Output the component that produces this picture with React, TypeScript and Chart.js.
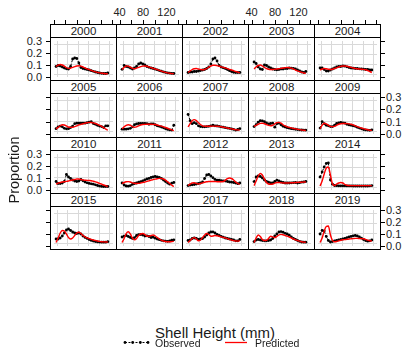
import React, { useEffect, useRef } from "react";
import { Chart, registerables } from "chart.js";
Chart.register(...registerables);

// ---------- data ----------
const years = [2000, 2001, 2002, 2003, 2004, 2005, 2006, 2007, 2008, 2009, 2010, 2011, 2012, 2013, 2014, 2015, 2016, 2017, 2018, 2019];
const shellHeights = [38, 42, 46, 50, 54, 58, 62, 66, 70, 74, 78, 82, 86, 90, 94, 98, 102, 106, 110, 114, 118, 122, 126, 130, 134, 138];
const xTickLabels = [40, 80, 120];
const xTicks = [40, 60, 80, 100, 120, 140];
const yTicks = [0, 0.1, 0.2, 0.3];

const obs2000 = [0.075,0.085,0.08,0.07,0.06,0.052,0.05,0.075,0.15,0.16,0.155,0.11,0.065,0.055,0.05,0.045,0.04,0.033,0.027,0.02,0.015,0.01,0.007,0.005,0.005,0.01];
const pred2000 = [0.075,0.088,0.095,0.09,0.078,0.064,0.056,0.058,0.066,0.074,0.08,0.082,0.078,0.07,0.06,0.052,0.044,0.036,0.029,0.022,0.016,0.011,0.008,0.005,0.003,0.002];
const obs2001 = [0.047,0.085,0.075,0.07,0.06,0.05,0.06,0.075,0.1,0.11,0.1,0.09,0.075,0.067,0.06,0.055,0.048,0.042,0.034,0.028,0.021,0.016,0.011,0.008,0.006,0.005];
const pred2001 = [0.045,0.065,0.08,0.078,0.068,0.057,0.053,0.058,0.066,0.074,0.079,0.08,0.077,0.071,0.064,0.057,0.05,0.043,0.036,0.029,0.022,0.016,0.011,0.007,0.004,0.003];
const obs2002 = [0.015,0.02,0.02,0.025,0.025,0.03,0.035,0.04,0.045,0.055,0.07,0.1,0.15,0.16,0.13,0.085,0.07,0.062,0.055,0.045,0.033,0.025,0.017,0.015,0.015,0.015];
const pred2002 = [0.015,0.03,0.045,0.053,0.055,0.05,0.045,0.042,0.045,0.055,0.068,0.08,0.088,0.088,0.084,0.078,0.072,0.066,0.06,0.054,0.047,0.04,0.033,0.025,0.018,0.012];
const obs2003 = [0.12,0.105,0.07,0.05,0.045,0.09,0.085,0.07,0.06,0.05,0.045,0.042,0.045,0.05,0.05,0.055,0.055,0.06,0.058,0.055,0.05,0.04,0.03,0.02,0.015,0.025];
const pred2003 = [0.05,0.07,0.085,0.09,0.08,0.065,0.055,0.048,0.045,0.045,0.047,0.05,0.053,0.056,0.06,0.063,0.065,0.063,0.058,0.05,0.04,0.032,0.024,0.016,0.01,0.006];
const obs2004 = [0.06,0.06,0.045,0.03,0.03,0.04,0.05,0.06,0.07,0.075,0.075,0.08,0.078,0.072,0.065,0.06,0.058,0.055,0.055,0.052,0.05,0.048,0.045,0.045,0.04,0.04];
const pred2004 = [0.04,0.05,0.055,0.052,0.048,0.045,0.048,0.055,0.062,0.07,0.076,0.08,0.08,0.077,0.072,0.066,0.06,0.055,0.052,0.05,0.048,0.046,0.042,0.035,0.025,0.015];
const obs2005 = [0.022,0.04,0.047,0.04,0.025,0.02,0.022,0.033,0.047,0.07,0.075,0.075,0.075,0.075,0.075,0.08,0.085,0.09,0.072,0.065,0.055,0.047,0.042,0.033,0.05,0.05];
const pred2005 = [0.02,0.035,0.05,0.06,0.058,0.048,0.038,0.034,0.036,0.042,0.05,0.058,0.064,0.07,0.075,0.08,0.083,0.082,0.078,0.072,0.064,0.055,0.045,0.032,0.018,0.008];
const obs2006 = [0.017,0.017,0.017,0.02,0.025,0.04,0.06,0.068,0.072,0.072,0.072,0.072,0.07,0.065,0.068,0.068,0.06,0.05,0.045,0.038,0.03,0.022,0.015,0.01,0.008,0.055];
const pred2006 = [0.02,0.04,0.055,0.06,0.055,0.042,0.036,0.04,0.05,0.058,0.062,0.064,0.065,0.065,0.065,0.064,0.062,0.058,0.052,0.046,0.04,0.033,0.026,0.018,0.01,0.003];
const obs2007 = [0.16,0.1,0.07,0.08,0.07,0.05,0.042,0.04,0.04,0.042,0.045,0.05,0.055,0.05,0.048,0.045,0.04,0.036,0.032,0.028,0.024,0.02,0.015,0.008,0.014,0.022];
const pred2007 = [0.04,0.07,0.1,0.11,0.1,0.08,0.062,0.05,0.046,0.045,0.045,0.046,0.047,0.047,0.046,0.044,0.04,0.036,0.032,0.028,0.024,0.02,0.016,0.012,0.01,0.008];
const obs2008 = [0.042,0.06,0.085,0.1,0.097,0.09,0.078,0.068,0.072,0.075,0.036,0.07,0.075,0.06,0.045,0.038,0.032,0.027,0.022,0.019,0.016,0.013,0.011,0.009,0.008,0.008];
const pred2008 = [0.045,0.055,0.065,0.073,0.075,0.07,0.062,0.054,0.05,0.055,0.068,0.08,0.083,0.075,0.06,0.048,0.04,0.034,0.029,0.024,0.02,0.016,0.012,0.009,0.006,0.004];
const obs2009 = [0.028,0.09,0.07,0.055,0.05,0.042,0.042,0.055,0.072,0.078,0.083,0.078,0.075,0.065,0.058,0.055,0.05,0.045,0.035,0.028,0.02,0.013,0.01,0.008,0.006,0.011];
const pred2009 = [0.022,0.055,0.075,0.068,0.055,0.045,0.042,0.045,0.055,0.065,0.07,0.072,0.072,0.071,0.069,0.065,0.058,0.05,0.042,0.035,0.028,0.022,0.016,0.011,0.007,0.004];
const obs2010 = [0.055,0.035,0.035,0.04,0.055,0.125,0.1,0.085,0.07,0.06,0.055,0.06,0.075,0.062,0.05,0.042,0.036,0.032,0.028,0.022,0.015,0.009,0.006,0.005,0.005,0.005];
const pred2010 = [0.03,0.038,0.045,0.05,0.053,0.056,0.06,0.065,0.07,0.075,0.08,0.08,0.075,0.07,0.068,0.066,0.065,0.063,0.058,0.052,0.045,0.037,0.028,0.02,0.012,0.005];
const obs2011 = [0.04,0.02,0.01,0.008,0.014,0.027,0.035,0.04,0.048,0.054,0.062,0.072,0.08,0.086,0.095,0.1,0.105,0.1,0.095,0.086,0.07,0.055,0.04,0.028,0.038,0.045];
const pred2011 = [0.035,0.045,0.052,0.054,0.05,0.042,0.037,0.035,0.036,0.04,0.045,0.05,0.056,0.062,0.068,0.074,0.079,0.083,0.086,0.086,0.08,0.068,0.052,0.035,0.018,0.005];
const obs2012 = [0.014,0.02,0.022,0.025,0.03,0.035,0.04,0.05,0.085,0.12,0.125,0.11,0.093,0.076,0.068,0.068,0.063,0.062,0.06,0.055,0.05,0.048,0.045,0.04,0.033,0.04];
const pred2012 = [0.015,0.028,0.04,0.042,0.035,0.03,0.035,0.042,0.048,0.052,0.055,0.055,0.055,0.054,0.053,0.052,0.052,0.055,0.068,0.083,0.09,0.085,0.07,0.05,0.035,0.027];
const obs2013 = [0.054,0.1,0.11,0.105,0.09,0.07,0.055,0.048,0.04,0.04,0.055,0.068,0.06,0.05,0.045,0.04,0.04,0.04,0.042,0.043,0.045,0.04,0.043,0.048,0.05,0.055];
const pred2013 = [0.014,0.06,0.11,0.135,0.12,0.08,0.045,0.03,0.027,0.03,0.038,0.045,0.045,0.042,0.04,0.04,0.04,0.041,0.042,0.043,0.045,0.046,0.047,0.048,0.05,0.05];
const obs2014 = [0.1,0.15,0.2,0.235,0.24,0.07,0.028,0.015,0.013,0.012,0.012,0.012,0.012,0.011,0.011,0.011,0.01,0.01,0.01,0.01,0.01,0.01,0.01,0.01,0.012,0.014];
const pred2014 = [0.01,0.06,0.13,0.19,0.2,0.12,0.03,0.015,0.03,0.04,0.045,0.04,0.025,0.018,0.015,0.014,0.014,0.014,0.014,0.014,0.014,0.014,0.014,0.014,0.014,0.014];
const obs2015 = [0.04,0.04,0.05,0.07,0.1,0.13,0.14,0.125,0.11,0.1,0.095,0.1,0.09,0.07,0.056,0.046,0.035,0.026,0.02,0.015,0.011,0.009,0.008,0.008,0.008,0.013];
const pred2015 = [0.005,0.05,0.1,0.125,0.12,0.09,0.055,0.04,0.05,0.075,0.1,0.107,0.095,0.075,0.062,0.052,0.044,0.036,0.03,0.025,0.02,0.016,0.013,0.011,0.01,0.01];
const obs2016 = [0.06,0.068,0.075,0.065,0.055,0.046,0.054,0.075,0.083,0.085,0.08,0.07,0.072,0.065,0.055,0.058,0.048,0.04,0.033,0.027,0.022,0.019,0.017,0.02,0.028,0.032];
const pred2016 = [0.005,0.045,0.095,0.113,0.09,0.05,0.032,0.045,0.075,0.09,0.095,0.085,0.07,0.068,0.075,0.08,0.07,0.055,0.04,0.028,0.02,0.015,0.012,0.012,0.014,0.016];
const obs2017 = [0.025,0.03,0.045,0.05,0.045,0.035,0.04,0.045,0.06,0.08,0.1,0.11,0.112,0.1,0.085,0.075,0.067,0.058,0.05,0.045,0.04,0.035,0.03,0.022,0.022,0.035];
const pred2017 = [0.005,0.025,0.045,0.054,0.04,0.022,0.03,0.055,0.08,0.095,0.085,0.068,0.07,0.075,0.072,0.068,0.062,0.056,0.05,0.044,0.036,0.03,0.024,0.02,0.019,0.022];
const obs2018 = [0.014,0.03,0.035,0.03,0.024,0.022,0.022,0.025,0.03,0.045,0.07,0.09,0.11,0.114,0.108,0.097,0.09,0.078,0.062,0.045,0.035,0.025,0.016,0.01,0.008,0.008];
const pred2018 = [0.005,0.05,0.08,0.065,0.035,0.025,0.027,0.045,0.068,0.062,0.054,0.065,0.08,0.086,0.083,0.075,0.068,0.06,0.05,0.04,0.032,0.025,0.019,0.013,0.009,0.006];
const obs2019 = [0.09,0.125,0.12,0.065,0.025,0.01,0.014,0.022,0.027,0.032,0.035,0.04,0.046,0.054,0.06,0.066,0.072,0.075,0.07,0.06,0.048,0.035,0.025,0.018,0.022,0.03];
const pred2019 = [0.005,0.05,0.12,0.165,0.17,0.08,0.025,0.012,0.015,0.022,0.028,0.032,0.034,0.036,0.04,0.042,0.044,0.046,0.046,0.045,0.044,0.042,0.036,0.028,0.022,0.02];

const observed = [obs2000, obs2001, obs2002, obs2003, obs2004, obs2005, obs2006, obs2007, obs2008, obs2009, obs2010, obs2011, obs2012, obs2013, obs2014, obs2015, obs2016, obs2017, obs2018, obs2019];
const predicted = [pred2000, pred2001, pred2002, pred2003, pred2004, pred2005, pred2006, pred2007, pred2008, pred2009, pred2010, pred2011, pred2012, pred2013, pred2014, pred2015, pred2016, pred2017, pred2018, pred2019];

// ---------- layout ----------
const FONT = "'Liberation Sans', Arial, Helvetica, sans-serif";
const X_MIN = 34, X_MAX = 148;
const Y_MIN = -0.03, Y_MAX = 0.33;
const COL_LEFT = 50, COL_PITCH = 66, PANEL_W = 67;
const ROW_TOPS = [24, 80, 137, 193];
const BOTTOM = 249;
const STRIP_H = 13;
const RIGHT_EDGE = COL_LEFT + COL_PITCH * 5;

function panelRect(i: number) {
  const r = Math.floor(i / 5), c = i % 5;
  const top = ROW_TOPS[r] + STRIP_H;
  const bottom = r < 3 ? ROW_TOPS[r + 1] : BOTTOM;
  return { r, c, left: COL_LEFT + COL_PITCH * c, top, width: PANEL_W, height: bottom - top + 1 };
}
function xPix(c: number, v: number) {
  return COL_LEFT + COL_PITCH * c + ((v - X_MIN) / (X_MAX - X_MIN)) * PANEL_W;
}
function yPix(r: number, v: number) {
  const p = panelRect(r * 5);
  return p.top + ((Y_MAX - v) / (Y_MAX - Y_MIN)) * p.height;
}

const panelDecor = {
  id: "panelDecor",
  beforeDatasetsDraw(chart: any) {
    const { ctx, chartArea, scales } = chart;
    ctx.save();
    ctx.strokeStyle = "#d9d9d9";
    ctx.lineWidth = 1;
    for (const v of xTicks) {
      const x = Math.round(scales.x.getPixelForValue(v)) + 0.5;
      ctx.beginPath(); ctx.moveTo(x, chartArea.top); ctx.lineTo(x, chartArea.bottom); ctx.stroke();
    }
    for (const v of yTicks) {
      const y = Math.round(scales.y.getPixelForValue(v)) + 0.5;
      ctx.beginPath(); ctx.moveTo(chartArea.left, y); ctx.lineTo(chartArea.right, y); ctx.stroke();
    }
    ctx.restore();
  },
  afterDraw(chart: any) {
    const { ctx, width, height } = chart;
    ctx.save();
    ctx.strokeStyle = "#000";
    ctx.lineWidth = 1;
    ctx.strokeRect(0.5, 0.5, width - 1, height - 1);
    ctx.restore();
  },
};

function Panel({ index }: { index: number }) {
  const ref = useRef<HTMLCanvasElement | null>(null);
  const rect = panelRect(index);
  useEffect(() => {
    if (!ref.current) return;
    const chart = new Chart(ref.current, {
      type: "line",
      data: {
        datasets: [
          {
            label: "Predicted",
            data: shellHeights.map((x, k) => ({ x, y: predicted[index][k] })),
            borderColor: "#ff0000",
            borderWidth: 1.4,
            pointRadius: 0,
            cubicInterpolationMode: "monotone",
            fill: false,
          },
          {
            label: "Observed",
            data: shellHeights.map((x, k) => ({ x, y: observed[index][k] })),
            borderColor: "#000000",
            borderWidth: 1,
            borderDash: [2, 1.5],
            pointRadius: 1.4,
            pointBackgroundColor: "#000000",
            pointBorderWidth: 0,
            fill: false,
          },
        ],
      },
      options: {
        responsive: false,
        animation: false,
        events: [],
        layout: { padding: 0 },
        plugins: { legend: { display: false }, tooltip: { enabled: false } },
        scales: {
          x: { type: "linear", min: X_MIN, max: X_MAX, display: false },
          y: { type: "linear", min: Y_MIN, max: Y_MAX, display: false },
        },
      } as any,
      plugins: [panelDecor],
    });
    return () => chart.destroy();
  }, [index]);
  return (
    <canvas
      ref={ref}
      width={rect.width}
      height={rect.height}
      style={{ position: "absolute", left: rect.left, top: rect.top, width: rect.width, height: rect.height }}
    />
  );
}

const abs = (s: React.CSSProperties): React.CSSProperties => ({ position: "absolute", ...s });

export default function App() {
  const items: React.ReactNode[] = [];
  // strips
  years.forEach((yr, i) => {
    const r = Math.floor(i / 5), c = i % 5;
    items.push(
      <div key={"s" + i} style={abs({ left: COL_LEFT + COL_PITCH * c, top: ROW_TOPS[r], width: PANEL_W, height: STRIP_H + 1, boxSizing: "border-box", border: "1px solid #000", background: "#fff", font: `11.5px ${FONT}`, lineHeight: `${STRIP_H - 1}px`, textAlign: "center", color: "#1a1a1a" })}>{yr}</div>
    );
  });
  // top ticks
  for (let c = 0; c < 5; c++) {
    for (const v of xTicks) {
      items.push(<div key={`tt${c}-${v}`} style={abs({ left: Math.round(xPix(c, v)), top: ROW_TOPS[0] - 4, width: 1, height: 4, background: "#000" })} />);
    }
    if (c === 1 || c === 3) {
      for (const v of xTickLabels) {
        items.push(<div key={`tl${c}-${v}`} style={abs({ left: xPix(c, v) - 15, top: 6, width: 30, textAlign: "center", font: `11px ${FONT}`, lineHeight: "13px", color: "#222" })}>{v}</div>);
      }
    }
  }
  // y ticks
  for (let r = 0; r < 4; r++) {
    for (const v of yTicks) {
      const y = Math.round(yPix(r, v));
      items.push(<div key={`yl${r}-${v}`} style={abs({ left: COL_LEFT - 4, top: y, width: 4, height: 1, background: "#000" })} />);
      items.push(<div key={`yr${r}-${v}`} style={abs({ left: RIGHT_EDGE + 1, top: y, width: 4, height: 1, background: "#000" })} />);
      if (r % 2 === 0) {
        items.push(<div key={`ylt${r}-${v}`} style={abs({ left: 8, top: y - 6, width: 34, textAlign: "right", font: `11px ${FONT}`, lineHeight: "13px", color: "#222" })}>{v.toFixed(1)}</div>);
      } else {
        items.push(<div key={`yrt${r}-${v}`} style={abs({ left: RIGHT_EDGE + 6, top: y - 6, width: 30, textAlign: "left", font: `11px ${FONT}`, lineHeight: "13px", color: "#222" })}>{v.toFixed(1)}</div>);
      }
    }
  }
  return (
    <div style={abs({ left: 0, top: 0, width: 404, height: 349, background: "#fff", overflow: "hidden" })}>
      {items}
      {years.map((_, i) => <Panel key={i} index={i} />)}
      <div style={abs({ left: 14, top: 170, transform: "translate(-50%, -50%) rotate(-90deg)", font: `14.5px ${FONT}`, whiteSpace: "nowrap", color: "#1a1a1a" })}>Proportion</div>
      <div style={abs({ left: 115, top: 325, width: 200, textAlign: "center", font: `15px ${FONT}`, lineHeight: "16px", color: "#1a1a1a" })}>Shell Height (mm)</div>
      <svg style={abs({ left: 122, top: 338, overflow: "visible" })} width={30} height={10}>
        <line x1={3} y1={4.5} x2={26} y2={4.5} stroke="#000" strokeWidth={1} strokeDasharray="2 1.5" />
        {[3, 10.7, 18.3, 26].map((x) => <circle key={x} cx={x} cy={4.5} r={1.4} fill="#000" />)}
      </svg>
      <div style={abs({ left: 155, top: 337, font: `10.5px ${FONT}`, lineHeight: "12px", color: "#1a1a1a" })}>Observed</div>
      <svg style={abs({ left: 225, top: 338 })} width={23} height={10}>
        <line x1={0} y1={4.5} x2={22} y2={4.5} stroke="#ff0000" strokeWidth={1.3} />
      </svg>
      <div style={abs({ left: 255, top: 337, font: `10.5px ${FONT}`, lineHeight: "12px", color: "#1a1a1a" })}>Predicted</div>
    </div>
  );
}
